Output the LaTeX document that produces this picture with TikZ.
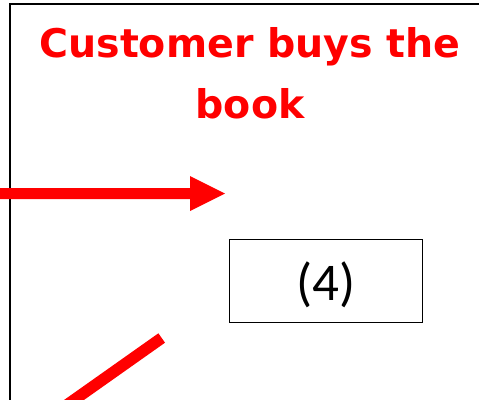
\documentclass[tikz,border=0pt]{standalone}
\usepackage{fontspec}
\newfontfamily\titlefont{DejaVu Sans}
\newfontfamily\boxfont{Carlito}
\begin{document}
\begin{tikzpicture}[x=1pt,y=-1pt,
  frame/.style={line width=2pt,black},
  redline/.style={red,line width=11.5pt},
  labelbox/.style={draw,line width=1.5pt,minimum width=193pt,minimum height=83pt,inner sep=0pt},
  boxtext/.style={inner sep=0pt,font=\boxfont\fontsize{53}{53}\selectfont},
  title/.style={text=red,font=\titlefont\bfseries\fontsize{39.5}{61}\selectfont,align=center}]
\useasboundingbox (0,0) rectangle (479,399);
\clip (0,0) rectangle (479,399);
\draw[frame] (10,401) -- (10,4) -- (481,4);
\node[title] (t) at (250,73) {Customer buys the\\book};
\coordinate (a0) at (-5,193.5);
\fill[red] (a0) ++(0,-5.5) -- (190,188) -- (190,176) -- (225,193.5) coordinate (tip) -- (190,211) -- (190,199) -- (-5,199) -- cycle;
\node[labelbox] (b) at (325.8,281) {};
\node[boxtext] (bt) at ([yshift=-3.5pt]b.center) {(4)};
\coordinate (d1) at (161.7,338);
\coordinate (d2) at (40,424);
\draw[redline] (d1) -- (d2);
\end{tikzpicture}
\end{document}
